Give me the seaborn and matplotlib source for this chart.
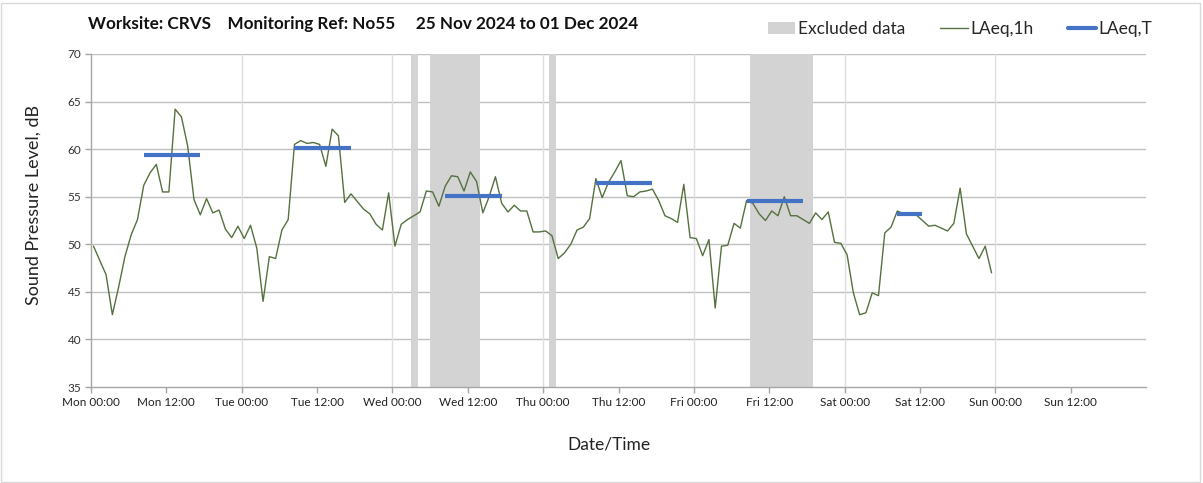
import matplotlib
matplotlib.use("Agg")
import matplotlib.pyplot as plt
import seaborn as sns
import numpy as np
import pandas as pd
from matplotlib.patches import Patch, Rectangle
from matplotlib.lines import Line2D

# ---------------- data ----------------
# hourly LAeq,1h values from Mon 00:00 (index = hour)
laeq_1h = [
    49.8, 48.3, 46.8, 42.6, 45.5, 48.7, 51.0, 52.6, 56.2, 57.5, 58.4, 55.5,
    55.5, 64.2, 63.4, 60.3, 54.7, 53.1, 54.8, 53.3, 53.6, 51.6, 50.7, 51.9,
    50.6, 52.0, 49.6, 44.0, 48.7, 48.5, 51.5, 52.6, 60.5, 60.9, 60.6, 60.7,
    60.5, 58.2, 62.1, 61.4, 54.4, 55.3, 54.5, 53.7, 53.2, 52.1, 51.5, 55.4,
    49.8, 52.1, 52.6, 53.0, 53.4, 55.6, 55.5, 54.0, 56.1, 57.2, 57.1, 55.6,
    57.6, 56.6, 53.3, 55.0, 57.1, 54.3, 53.4, 54.1, 53.5, 53.5, 51.3, 51.3,
    51.4, 50.9, 48.5, 49.1, 50.0, 51.5, 51.8, 52.7, 56.9, 54.9, 56.5, 57.6,
    58.8, 55.1, 55.0, 55.5, 55.6, 55.8, 54.6, 53.0, 52.7, 52.3, 56.3, 50.7,
    50.6, 48.8, 50.5, 43.3, 49.8, 49.9, 52.2, 51.7, 54.6, 54.3, 53.2, 52.5,
    53.5, 53.0, 55.0, 53.0, 53.0, 52.6, 52.2, 53.3, 52.6, 53.4, 50.2, 50.1,
    48.9, 44.9, 42.6, 42.8, 44.9, 44.6, 51.2, 51.8, 53.5, 53.2, 53.3, 53.1,
    52.5, 51.9, 52.0, 51.7, 51.4, 52.2, 55.9, 51.1, 49.8, 48.5, 49.8, 47.0,
]
# LAeq,T period averages: start hour, end hour, level
period_start = [8, 32, 56, 80, 104, 128]
period_end = [17, 41, 65, 89, 113, 132]
period_level = [59.4, 60.1, 55.1, 56.4, 54.6, 53.2]

# excluded data windows (hours from Mon 00:00)
excl_start = [51, 54, 73, 105]
excl_end = [52, 62, 74, 115]

tick_labels = ["Mon 00:00", "Mon 12:00", "Tue 00:00", "Tue 12:00", "Wed 00:00",
               "Wed 12:00", "Thu 00:00", "Thu 12:00", "Fri 00:00", "Fri 12:00",
               "Sat 00:00", "Sat 12:00", "Sun 00:00", "Sun 12:00"]
y_ticks = [35, 40, 45, 50, 55, 60, 65, 70]

title = "Worksite: CRVS    Monitoring Ref: No55     25 Nov 2024 to 01 Dec 2024"

# ---------------- style ----------------
sns.set_theme(style="white")
plt.rcParams["font.family"] = ["Lato", "DejaVu Sans"]

GREEN = "#55713F"
BLUE = "#4472C4"
GREY = "#D3D3D3"

W, H = 1203, 483
fig = plt.figure(figsize=(W / 100, H / 100), dpi=100)
ax = fig.add_axes([91 / W, (H - 387) / H, (1146 - 91) / W, (387 - 54) / H])

OFF = 0.4  # points plotted slightly after the hour
df = pd.DataFrame({"t": np.arange(len(laeq_1h)) + OFF, "v": laeq_1h})

for s, e in zip(excl_start, excl_end):
    ax.axvspan(s, e, color=GREY, lw=0, zorder=1)

sns.lineplot(data=df, x="t", y="v", ax=ax, color=GREEN, lw=1.0, zorder=3)

for s, e, v in zip(period_start, period_end, period_level):
    seg = pd.DataFrame({"t": [s + OFF, e + OFF], "v": [v, v]})
    sns.lineplot(data=seg, x="t", y="v", ax=ax, color=BLUE, lw=3.0, zorder=4,
                 solid_capstyle="butt")

ax.set_xlim(0, 168)
ax.set_ylim(35, 70)
ax.set_yticks(y_ticks)
ax.set_yticklabels([str(v) for v in y_ticks], fontsize=8.5, color="#333333")
ax.set_xticks(np.arange(0, 168, 12))
ax.set_xticklabels(tick_labels, fontsize=8.5, color="#222222")

# grid
for yv in y_ticks[1:]:
    ax.axhline(yv, color="#C0C0C0", lw=1.0, zorder=0.5)
for xv in range(24, 168, 24):
    ax.axvline(xv, color="#DEDEDE", lw=1.0, zorder=0.5)

for side in ["top", "right"]:
    ax.spines[side].set_visible(False)
for side in ["left", "bottom"]:
    ax.spines[side].set_color("#A6A6A6")
    ax.spines[side].set_linewidth(1.0)
ax.tick_params(axis="both", which="both", direction="out", length=4,
               color="#A6A6A6", width=1, pad=3, left=True, bottom=True)

ax.set_xlabel("Date/Time", fontsize=12.5, color="#222222")
ax.xaxis.set_label_coords((609 - 91) / (1146 - 91), -(436 - 387) / (387 - 54))
ax.set_ylabel("Sound Pressure Level, dB", fontsize=13, color="#222222")
ax.yaxis.set_label_coords(-(91 - 42) / (1146 - 91), (387 - 205) / (387 - 54))

fig.text(88 / W, 1 - 24 / H, title, fontsize=12.35, fontweight="bold",
         va="center", ha="left", color="#111111")

handles = [Patch(facecolor=GREY, edgecolor="none"),
           Line2D([], [], color=GREEN, lw=1.0),
           Line2D([], [], color=BLUE, lw=3.0)]
fig.legend(handles, ["Excluded data", "LAeq,1h", "LAeq,T"], ncol=3,
           loc="center right", bbox_to_anchor=(1168 / W, 1 - 29 / H),
           frameon=False, fontsize=12.5, handlelength=1.6, handletextpad=0.15,
           columnspacing=2.0, handleheight=0.75)

fig.patches.append(Rectangle((1 / W, 1 / H), (W - 4) / W, (H - 4) / H,
                             transform=fig.transFigure, fill=False,
                             edgecolor="#D9D9D9", lw=1.0))

fig.savefig("out.png", dpi=100)
